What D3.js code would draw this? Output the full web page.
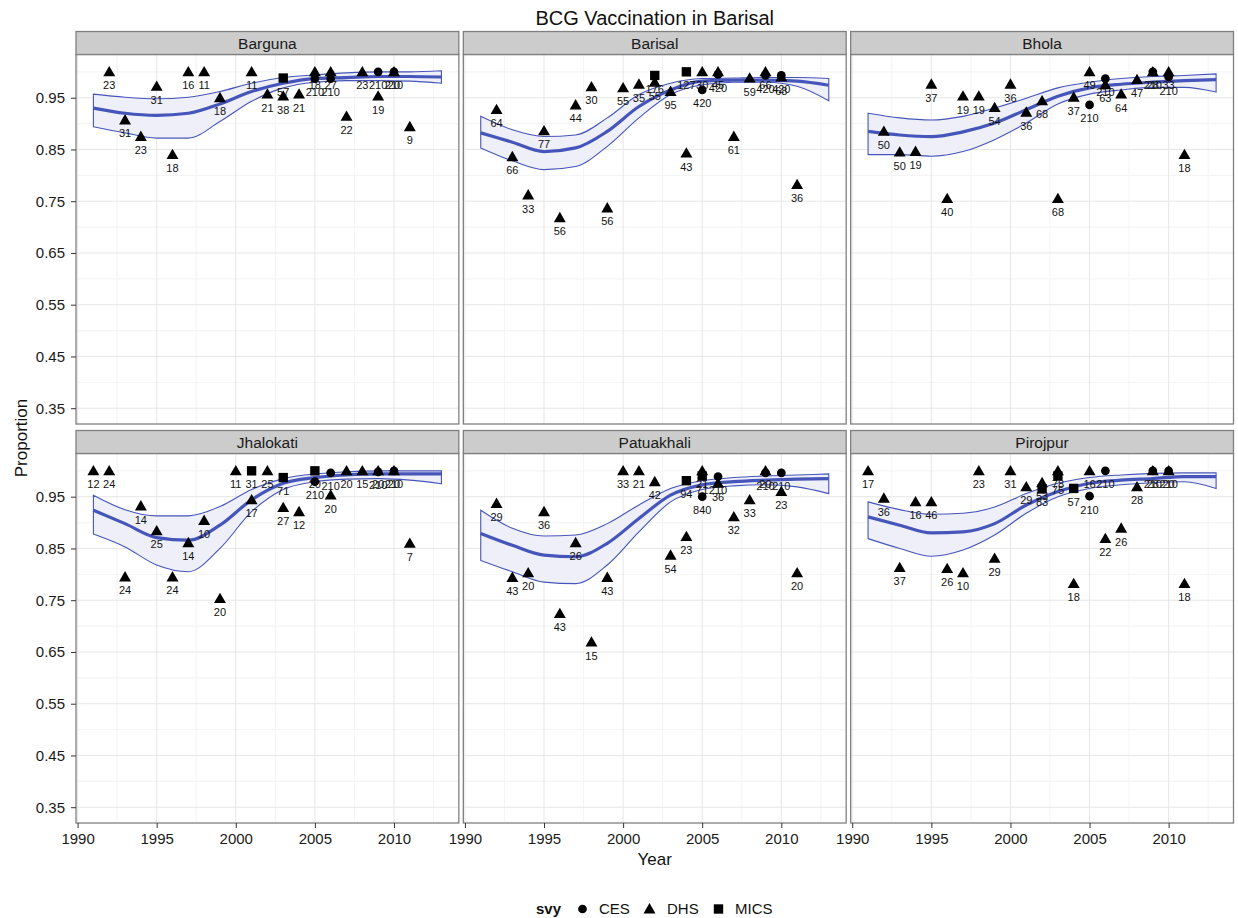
<!DOCTYPE html>
<html><head><meta charset="utf-8">
<script src="https://cdn.jsdelivr.net/npm/d3@7"></script>
<style>body{margin:0;background:#fff;} text{font-family:"Liberation Sans",Arial,sans-serif;}</style>
</head><body>
<script>
// ---------------- DATA ----------------
const regions = ["Barguna","Barisal","Bhola","Jhalokati","Patuakhali","Pirojpur"];
const svyTypes = ["CES","DHS","MICS"];
const xTicks = [1990,1995,2000,2005,2010];
const yTicks = [0.35,0.45,0.55,0.65,0.75,0.85,0.95];
const smoothYears = [1991,1993,1995,1997,1999,2001,2003,2005,2007,2009,2011,2013];

// points: [year, proportion, survey, sample n]
const bargunaPts = [[1992,1.0,"DHS",23],[1993,0.907,"DHS",31],[1994,0.875,"DHS",23],[1995,0.972,"DHS",31],[1996,0.84,"DHS",18],[1997,1.0,"DHS",16],[1998,1.0,"DHS",11],[1999,0.95,"DHS",18],[2001,1.0,"DHS",11],[2002,0.957,"DHS",21],[2003,0.953,"DHS",38],[2003,0.988,"MICS",57],[2004,0.957,"DHS",21],[2005,1.0,"DHS",18],[2005,0.987,"CES",210],[2006,1.0,"DHS",27],[2006,0.987,"CES",210],[2007,0.914,"DHS",22],[2008,1.0,"DHS",23],[2009,1.0,"CES",210],[2009,0.953,"DHS",19],[2010,1.0,"DHS",20],[2010,1.0,"CES",210],[2011,0.894,"DHS",9]];
const barisalPts = [[1992,0.927,"DHS",64],[1993,0.836,"DHS",66],[1994,0.762,"DHS",33],[1995,0.886,"DHS",77],[1996,0.718,"DHS",56],[1997,0.936,"DHS",44],[1998,0.971,"DHS",30],[1999,0.737,"DHS",56],[2000,0.969,"DHS",55],[2001,0.976,"DHS",35],[2002,0.98,"DHS",55],[2002,0.993,"MICS",176],[2003,0.962,"DHS",95],[2004,1.0,"MICS",127],[2004,0.843,"DHS",43],[2005,1.0,"DHS",30],[2005,0.965,"CES",420],[2006,1.0,"DHS",45],[2006,0.995,"CES",420],[2007,0.875,"DHS",61],[2008,0.988,"DHS",59],[2009,1.0,"DHS",66],[2009,0.993,"CES",420],[2010,0.993,"CES",420],[2010,0.99,"DHS",68],[2011,0.782,"DHS",36]];
const bholaPts = [[1992,0.885,"DHS",50],[1993,0.845,"DHS",50],[1994,0.846,"DHS",19],[1995,0.976,"DHS",37],[1996,0.755,"DHS",40],[1997,0.953,"DHS",19],[1998,0.953,"DHS",19],[1999,0.931,"DHS",54],[2000,0.976,"DHS",36],[2001,0.922,"DHS",36],[2002,0.944,"DHS",68],[2003,0.755,"DHS",68],[2004,0.951,"DHS",37],[2005,1.0,"DHS",49],[2005,0.936,"CES",210],[2006,0.987,"CES",210],[2006,0.975,"DHS",63],[2007,0.957,"DHS",64],[2008,0.985,"DHS",47],[2009,1.0,"DHS",28],[2009,1.0,"CES",210],[2010,1.0,"DHS",33],[2010,0.99,"CES",210],[2011,0.84,"DHS",18]];
const jhalokatiPts = [[1991,1.0,"DHS",12],[1992,1.0,"DHS",24],[1993,0.795,"DHS",24],[1994,0.932,"DHS",14],[1995,0.884,"DHS",25],[1996,0.795,"DHS",24],[1997,0.861,"DHS",14],[1998,0.904,"DHS",10],[1999,0.753,"DHS",20],[2000,1.0,"DHS",11],[2001,1.0,"MICS",31],[2001,0.944,"DHS",17],[2002,1.0,"DHS",25],[2003,0.987,"MICS",71],[2003,0.929,"DHS",27],[2004,0.921,"DHS",12],[2005,1.0,"MICS",20],[2005,0.979,"CES",210],[2006,0.996,"CES",210],[2006,0.953,"DHS",20],[2007,1.0,"DHS",20],[2008,1.0,"DHS",15],[2009,1.0,"DHS",20],[2009,0.998,"CES",210],[2010,1.0,"DHS",20],[2010,1.0,"CES",210],[2011,0.86,"DHS",7]];
const patuakhaliPts = [[1992,0.937,"DHS",29],[1993,0.794,"DHS",43],[1994,0.803,"DHS",20],[1995,0.921,"DHS",36],[1996,0.724,"DHS",43],[1997,0.861,"DHS",26],[1998,0.669,"DHS",15],[1999,0.794,"DHS",43],[2000,1.0,"DHS",33],[2001,1.0,"DHS",21],[2002,0.979,"DHS",42],[2003,0.837,"DHS",54],[2004,0.981,"MICS",94],[2004,0.873,"DHS",23],[2005,1.0,"DHS",21],[2005,0.99,"MICS",71],[2005,0.95,"CES",840],[2006,0.989,"CES",210],[2006,0.976,"DHS",36],[2007,0.911,"DHS",32],[2008,0.944,"DHS",33],[2009,1.0,"DHS",20],[2009,0.996,"CES",210],[2010,0.996,"CES",210],[2010,0.96,"DHS",23],[2011,0.803,"DHS",20]];
const pirojpurPts = [[1991,1.0,"DHS",17],[1992,0.947,"DHS",36],[1993,0.813,"DHS",37],[1994,0.94,"DHS",16],[1995,0.94,"DHS",46],[1996,0.811,"DHS",26],[1997,0.803,"DHS",10],[1998,1.0,"DHS",23],[1999,0.831,"DHS",29],[2000,1.0,"DHS",31],[2001,0.969,"DHS",29],[2002,0.977,"DHS",53],[2002,0.965,"MICS",83],[2003,1.0,"DHS",78],[2003,0.99,"MICS",75],[2004,0.966,"MICS",57],[2004,0.782,"DHS",18],[2005,1.0,"DHS",16],[2005,0.951,"CES",210],[2006,1.0,"CES",210],[2006,0.869,"DHS",22],[2007,0.889,"DHS",26],[2008,0.969,"DHS",28],[2009,1.0,"DHS",28],[2009,1.0,"CES",210],[2010,1.0,"DHS",20],[2010,1.0,"CES",210],[2011,0.782,"DHS",18]];

// smooth fit and confidence band at smoothYears
const bargunaFit = [0.930,0.920,0.916,0.920,0.938,0.962,0.978,0.987,0.989,0.991,0.991,0.990];
const bargunaLo  = [0.894,0.882,0.872,0.872,0.904,0.943,0.969,0.980,0.983,0.983,0.982,0.978];
const bargunaHi  = [0.957,0.951,0.948,0.951,0.962,0.978,0.989,0.994,0.998,1.000,1.000,1.002];
const barisalFit = [0.882,0.864,0.846,0.853,0.885,0.933,0.965,0.982,0.984,0.984,0.982,0.974];
const barisalLo  = [0.853,0.828,0.811,0.817,0.856,0.911,0.956,0.975,0.980,0.980,0.972,0.944];
const barisalHi  = [0.914,0.888,0.875,0.878,0.911,0.956,0.978,0.987,0.988,0.989,0.989,0.987];
const bholaFit = [0.885,0.878,0.875,0.884,0.901,0.927,0.953,0.969,0.976,0.980,0.983,0.985];
const bholaLo  = [0.840,0.840,0.837,0.846,0.869,0.901,0.938,0.957,0.965,0.970,0.970,0.961];
const bholaHi  = [0.920,0.911,0.907,0.914,0.930,0.949,0.969,0.980,0.987,0.991,0.993,0.996];
const jhalokatiFit = [0.924,0.898,0.871,0.866,0.895,0.944,0.976,0.987,0.992,0.994,0.994,0.994];
const jhalokatiLo  = [0.878,0.853,0.818,0.805,0.850,0.921,0.964,0.979,0.984,0.985,0.982,0.975];
const jhalokatiHi  = [0.953,0.925,0.913,0.913,0.931,0.964,0.985,0.994,0.998,1.000,1.000,1.000];
const patuakhaliFit = [0.879,0.856,0.837,0.834,0.860,0.908,0.953,0.973,0.979,0.982,0.984,0.985];
const patuakhaliLo  = [0.827,0.805,0.785,0.782,0.818,0.882,0.940,0.964,0.971,0.973,0.969,0.956];
const patuakhaliHi  = [0.924,0.889,0.874,0.876,0.898,0.934,0.966,0.981,0.987,0.990,0.992,0.994];
const pirojpurFit = [0.911,0.895,0.880,0.882,0.898,0.934,0.960,0.976,0.982,0.985,0.989,0.989];
const pirojpurLo  = [0.869,0.850,0.835,0.847,0.876,0.918,0.950,0.966,0.973,0.977,0.979,0.966];
const pirojpurHi  = [0.940,0.925,0.916,0.918,0.930,0.956,0.976,0.987,0.992,0.995,0.996,0.996];

const panelData = [
  {name:regions[0], pts:bargunaPts, fit:bargunaFit, lo:bargunaLo, hi:bargunaHi},
  {name:regions[1], pts:barisalPts, fit:barisalFit, lo:barisalLo, hi:barisalHi},
  {name:regions[2], pts:bholaPts, fit:bholaFit, lo:bholaLo, hi:bholaHi},
  {name:regions[3], pts:jhalokatiPts, fit:jhalokatiFit, lo:jhalokatiLo, hi:jhalokatiHi},
  {name:regions[4], pts:patuakhaliPts, fit:patuakhaliFit, lo:patuakhaliLo, hi:patuakhaliHi},
  {name:regions[5], pts:pirojpurPts, fit:pirojpurFit, lo:pirojpurLo, hi:pirojpurHi}
];

// ---------------- LAYOUT ----------------
const W = 1238, H = 918;
const left = 76, right = 1233.5, gap = 4.5;
const pw = (right - left - 2*gap) / 3;
const rows = [{stripTop:31.5, top:54.5, bottom:424}, {stripTop:430.5, top:453.5, bottom:823}];
const blue = "#4655B9";
const shapeOf = {CES:d3.symbolCircle, DHS:d3.symbolTriangle, MICS:d3.symbolSquare};
const sizeOf = {CES:60, DHS:62, MICS:88};

const svg = d3.select("body").append("svg").attr("width", W).attr("height", H);
svg.append("rect").attr("width", W).attr("height", H).attr("fill", "#fff");

svg.append("text").attr("x", (left+right)/2).attr("y", 25).attr("text-anchor","middle")
  .attr("font-size", 20).attr("fill","#111").text("BCG Vaccination in Barisal");

panelData.forEach((pd, i) => {
  const col = i % 3, row = Math.floor(i / 3);
  const R = rows[row];
  const x0 = left + col*(pw + gap);
  const x = d3.scaleLinear().domain([1989.9, 2014.1]).range([x0, x0 + pw]);
  const y = d3.scaleLinear().domain([0.3195, 1.0335]).range([R.bottom, R.top]);
  const g = svg.append("g");

  // background + grid
  g.append("rect").attr("x", x0).attr("y", R.top).attr("width", pw).attr("height", R.bottom - R.top).attr("fill", "#fff");
  const minorX = [1992.5,1997.5,2002.5,2007.5,2012.5];
  const minorY = [0.4,0.5,0.6,0.7,0.8,0.9,1.0];
  g.selectAll(".mnx").data(minorX).join("line").attr("x1", d=>x(d)).attr("x2", d=>x(d))
    .attr("y1", R.top).attr("y2", R.bottom).attr("stroke", "#f5f5f5").attr("stroke-width", 1.2);
  g.selectAll(".mny").data(minorY).join("line").attr("y1", d=>y(d)).attr("y2", d=>y(d))
    .attr("x1", x0).attr("x2", x0+pw).attr("stroke", "#f5f5f5").attr("stroke-width", 1.2);
  g.selectAll(".mjx").data(xTicks).join("line").attr("x1", d=>x(d)).attr("x2", d=>x(d))
    .attr("y1", R.top).attr("y2", R.bottom).attr("stroke", "#e6e6e6").attr("stroke-width", 1);
  g.selectAll(".mjy").data(yTicks).join("line").attr("y1", d=>y(d)).attr("y2", d=>y(d))
    .attr("x1", x0).attr("x2", x0+pw).attr("stroke", "#e6e6e6").attr("stroke-width", 1);

  // smooth ribbon + fit
  const sm = smoothYears.map((yr, k) => ({yr, f: pd.fit[k], lo: pd.lo[k], hi: pd.hi[k]}));
  const area = d3.area().x(d=>x(d.yr)).y0(d=>y(d.lo)).y1(d=>y(d.hi)).curve(d3.curveMonotoneX);
  g.append("path").datum(sm).attr("d", area).attr("fill", "#eeeff8").attr("stroke", blue).attr("stroke-width", 1.1);
  const line = d3.line().x(d=>x(d.yr)).y(d=>y(d.f)).curve(d3.curveMonotoneX);
  g.append("path").datum(sm).attr("d", line).attr("fill", "none").attr("stroke", blue).attr("stroke-width", 3.2);

  // points
  g.selectAll(".pt").data(pd.pts).join("path")
    .attr("transform", d => `translate(${x(d[0])},${y(d[1]) + (d[2]==="DHS" ? 1 : 0)})`)
    .attr("d", d => d3.symbol().type(shapeOf[d[2]]).size(sizeOf[d[2]])())
    .attr("fill", "#000");
  // labels
  g.selectAll(".lb").data(pd.pts).join("text")
    .attr("x", d => x(d[0])).attr("y", d => y(d[1]) + 17.5)
    .attr("text-anchor", "middle").attr("font-size", 11).attr("fill", "#111")
    .text(d => d[3]);

  // border
  g.append("rect").attr("x", x0).attr("y", R.top).attr("width", pw).attr("height", R.bottom - R.top)
    .attr("fill", "none").attr("stroke", "#808080").attr("stroke-width", 1.3);
  // strip
  g.append("rect").attr("x", x0).attr("y", R.stripTop).attr("width", pw).attr("height", R.top - R.stripTop)
    .attr("fill", "#cccccc").attr("stroke", "#808080").attr("stroke-width", 1.3);
  g.append("text").attr("x", x0 + pw/2).attr("y", (R.stripTop + R.top)/2 + 5.5).attr("text-anchor", "middle")
    .attr("font-size", 15.5).attr("fill", "#1a1a1a").text(pd.name);

  // axes
  if (col === 0) {
    const ax = g.append("g").attr("transform", `translate(${x0},0)`)
      .call(d3.axisLeft(y).tickValues(yTicks).tickFormat(d3.format(".2f")).tickSize(5).tickPadding(6));
    ax.select(".domain").remove();
    ax.selectAll("line").attr("stroke", "#333");
    ax.selectAll("text").attr("font-size", 15).attr("fill", "#1a1a1a").attr("font-family", "Liberation Sans, Arial, sans-serif");
  }
  if (row === 1) {
    const ax = g.append("g").attr("transform", `translate(0,${R.bottom})`)
      .call(d3.axisBottom(x).tickValues(xTicks).tickFormat(d3.format("d")).tickSize(5).tickPadding(5));
    ax.select(".domain").remove();
    ax.selectAll("line").attr("stroke", "#333");
    ax.selectAll("text").attr("font-size", 15).attr("fill", "#1a1a1a").attr("font-family", "Liberation Sans, Arial, sans-serif");
  }
});

// axis titles
svg.append("text").attr("x", (left+right)/2).attr("y", 865).attr("text-anchor","middle")
  .attr("font-size", 17).attr("fill","#111").text("Year");
svg.append("text").attr("transform", `translate(27,438) rotate(-90)`)
  .attr("text-anchor","middle").attr("font-size", 17).attr("fill","#111").text("Proportion");

// legend
const lg = svg.append("g");
lg.append("text").attr("x", 536).attr("y", 914).attr("font-size", 15).attr("font-weight", "bold").attr("fill","#111").text("svy");
const legX = [{sx:582.5, tx:599}, {sx:649.5, tx:667}, {sx:718.5, tx:735}];
legX.forEach((L, k) => {
  const s = svyTypes[k];
  lg.append("path").attr("transform", `translate(${L.sx},${909 + (s==="DHS"?1:0)})`)
    .attr("d", d3.symbol().type(shapeOf[s]).size(sizeOf[s])()).attr("fill","#000");
  lg.append("text").attr("x", L.tx).attr("y", 914).attr("font-size", 15).attr("fill","#111").text(s);
});
</script>
</body></html>
